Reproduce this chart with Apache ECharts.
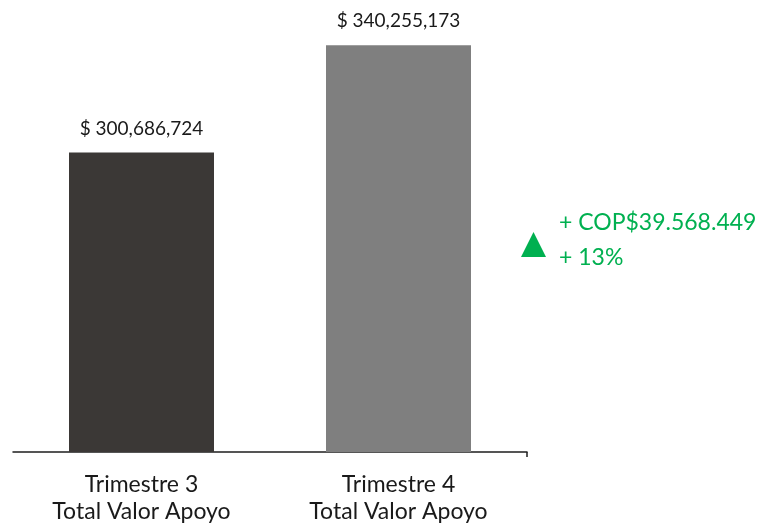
<!DOCTYPE html>
<html>
<head>
<meta charset="utf-8">
<script src="https://cdn.jsdelivr.net/npm/echarts@6/dist/echarts.min.js"></script>
<style>
  html, body { margin: 0; padding: 0; background: #ffffff; }
  #chart { width: 758px; height: 531px; }
</style>
</head>
<body>
<div id="chart"></div>
<script>
// Quarterly support totals
const categories = ['Trimestre 3\nTotal Valor Apoyo', 'Trimestre 4\nTotal Valor Apoyo'];
const totals = [300686724, 340255173];
const barColors = ['#3b3836', '#7f7f7f'];

const FONT = 'Lato, "Open Sans", sans-serif';
const GREEN = '#00b050';

// Change between the two quarters
const diff = totals[1] - totals[0];
const pct = Math.round(diff / totals[0] * 100);
const fmtComma = v => v.toLocaleString('en-US');
const fmtDot = v => v.toLocaleString('en-US').replace(/,/g, '.');

const chart = echarts.init(document.getElementById('chart'));
chart.setOption({
  backgroundColor: '#ffffff',
  animation: false,
  grid: { left: 13, right: 231, top: 19, bottom: 79 },
  xAxis: [
    {
      type: 'category',
      data: categories,
      axisLine: { lineStyle: { color: '#1e1e1e', width: 1.5 } },
      axisTick: { alignWithLabel: true, length: 5, lineStyle: { color: '#1e1e1e', width: 1.5 } },
      axisLabel: {
        margin: 19,
        color: '#1a1a1a',
        fontFamily: FONT,
        fontSize: 23,
        lineHeight: 27
      }
    },
    {
      // extra axis carrying only the closing tick at the right end
      type: 'category',
      data: ['', ''],
      boundaryGap: false,
      position: 'bottom',
      axisLine: { show: false },
      axisLabel: { show: false },
      axisTick: {
        show: true,
        length: 5,
        interval: (i) => i === 1,
        lineStyle: { color: '#1e1e1e', width: 1.5 }
      }
    }
  ],
  yAxis: {
    type: 'value',
    min: 190000000,
    max: 350000000,
    show: false,
    splitLine: { show: false }
  },
  series: [{
    type: 'bar',
    xAxisIndex: 0,
    barWidth: 145,
    data: totals.map((v, i) => ({ value: v, itemStyle: { color: barColors[i] } })),
    label: {
      show: true,
      position: 'top',
      distance: 14,
      color: '#1a1a1a',
      fontFamily: FONT,
      fontSize: 19,
      lineHeight: 20,
      formatter: p => '$ ' + fmtComma(p.value)
    }
  }],
  graphic: [
    {
      type: 'polygon',
      shape: { points: [[533.5, 232], [546, 257], [521, 257]] },
      style: { fill: GREEN }
    },
    {
      type: 'text',
      left: 559,
      top: 205,
      style: {
        text: '+ COP$' + fmtDot(diff) + '\n+ ' + pct + '%',
        fill: GREEN,
        font: '23px ' + FONT,
        lineHeight: 35
      }
    }
  ]
});
</script>
</body>
</html>
